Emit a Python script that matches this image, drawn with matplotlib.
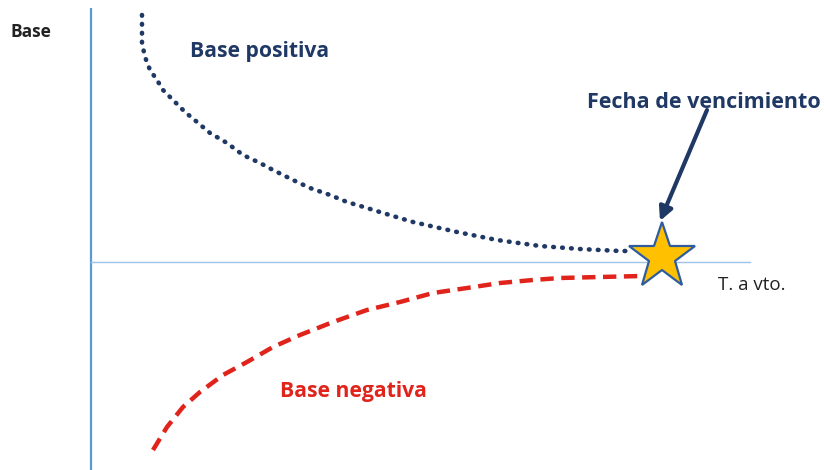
import numpy as np
import matplotlib.pyplot as plt

# time to maturity (x) and basis (y), basis goes to zero at expiry
t_pos = [51, 51, 51, 54, 59, 66, 72, 82, 94, 106, 119, 136, 152, 169, 182, 202,
         219, 239, 256, 276, 292, 322, 366, 406, 449, 489, 529, 542]
base_pos = [247, 234, 219, 205, 192, 182, 172, 162, 150, 140, 129, 119, 107, 99, 92, 82,
            74, 67, 60, 54, 49, 40, 30, 22, 16, 13, 11, 11]

t_neg = [62, 76, 92, 109, 132, 156, 182, 209, 242, 276, 309, 342, 376, 409, 442, 469, 509, 551]
base_neg = [-188, -165, -145, -130, -113, -100, -85, -73, -60, -48, -40, -31, -26, -21,
            -18, -16, -15, -14]

t_venc = 569
base_venc = 5

navy = '#1F3864'
red = '#E0231B'

plt.rcParams['font.family'] = ['Open Sans', 'DejaVu Sans']

fig = plt.figure(figsize=(8.24, 4.70), dpi=100)
ax = fig.add_axes([0, 0, 1, 1])
ax.set_xlim(-91, 733)
ax.set_ylim(-208, 262)
ax.axis('off')

# axes lines
ax.plot([0, 0], [-208, 254], color='#5B9BD5', lw=1.6, solid_capstyle='butt')
ax.plot([0, 659], [0, 0], color='#9DC3E6', lw=1.0)

ax.plot(t_pos, base_pos, color=navy, lw=3.3, linestyle=(0, (0.15, 1.8)),
        dash_capstyle='round', solid_joinstyle='round')
ax.plot(t_neg, base_neg, color=red, lw=3.2, linestyle=(0, (3.0, 1.7)),
        solid_joinstyle='round')

ax.plot(t_venc + 2, base_venc, marker='*', markersize=50, markerfacecolor='#FFC000',
        markeredgecolor='#2E5C9E', markeredgewidth=1.6, zorder=5)

ax.annotate('', xy=(t_venc, base_venc + 36), xytext=(t_venc + 47, base_venc + 147),
            arrowprops=dict(arrowstyle='-|>', color=navy, lw=3,
                            mutation_scale=20, shrinkA=0, shrinkB=0))

ax.text(-81, 230, 'Base', fontsize=12.5, fontweight='bold', color='#222222',
        ha='left', va='center')
ax.text(99, 210, 'Base positiva', fontsize=15.2, fontweight='bold', color=navy,
        ha='left', va='center')
ax.text(496, 160, 'Fecha de vencimiento', fontsize=15.5, fontweight='bold', color=navy,
        ha='left', va='center')
ax.text(627, -23, 'T. a vto.', fontsize=13.5, color='#222222',
        ha='left', va='center')
ax.text(189, -130, 'Base negativa', fontsize=15.2, fontweight='bold', color=red,
        ha='left', va='center')

fig.savefig('out.png', dpi=100)
